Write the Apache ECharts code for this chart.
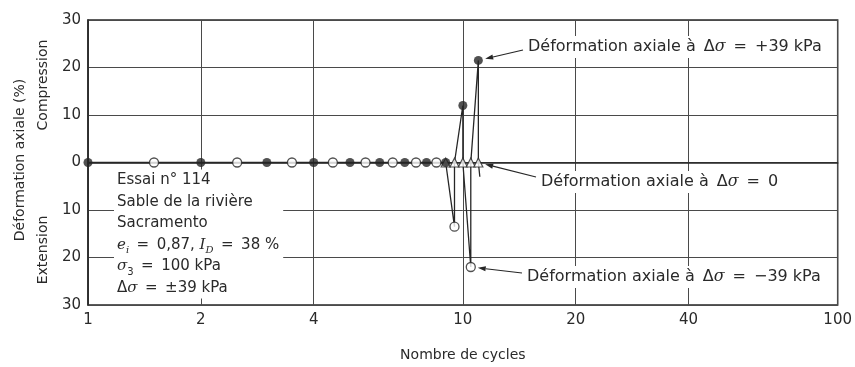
<!DOCTYPE html>
<html><head><meta charset="utf-8">
<script src="https://cdn.jsdelivr.net/npm/echarts@6/dist/echarts.min.js"></script>
<style>html,body{margin:0;padding:0;background:#fff}#c{width:855px;height:367px}</style>
</head><body><div id="c"></div>
<script>
const FONT = 'DejaVu Sans';
const xTicks = [1, 2, 4, 10, 20, 40, 100];
// Δσ = +39 kPa (filled circles)
const compCycles = [1, 2, 3, 4, 5, 6, 7, 8, 9, 10, 11];
const compStrain = [0, 0, 0, 0, 0, 0, 0, 0, 0, 12, 21.5];
// Δσ = -39 kPa (open circles)
const extCycles = [1.5, 2.5, 3.5, 4.5, 5.5, 6.5, 7.5, 8.5, 9.5, 10.5];
const extStrain = [0, 0, 0, 0, 0, 0, 0, 0, -13.5, -22];
// Δσ = 0 (triangles)
const zeroCycles = [9, 9.5, 10, 10.5, 11];
const zeroStrain = [0, 0, 0, 0, 0];
// last recorded segment
const tailCycle = [11.1];
const tailStrain = [-3];

const pts = [];
compCycles.forEach((c, i) => pts.push({c: c, y: compStrain[i], o: 0}));
extCycles.forEach((c, i) => pts.push({c: c, y: extStrain[i], o: 0}));
zeroCycles.forEach((c, i) => pts.push({c: c, y: zeroStrain[i], o: 1}));
pts.sort((a, b) => (a.c - b.c) || (a.o - b.o));
const path = pts.map(p => [p.c, p.y]);
tailCycle.forEach((c, i) => path.push([c, tailStrain[i]]));

const ink = '#262626';
const txt = '#2a2a2a';
const chart = echarts.init(document.getElementById('c'), null, {renderer: 'canvas'});
chart.setOption({
  animation: false,
  backgroundColor: '#fff',
  grid: {left: 88, right: 11, top: 20, bottom: 62, show: true, borderColor: ink, borderWidth: 1.5, backgroundColor: 'transparent'},
  xAxis: {
    type: 'log', logBase: 10, min: 1, max: 100,
    axisLine: {show: true, lineStyle: {color: ink, width: 1.5}},
    axisTick: {show: false, customValues: xTicks},
    axisLabel: {customValues: xTicks, color: txt, fontSize: 15, fontFamily: FONT, margin: 8, formatter: v => String(v)},
    splitLine: {show: true, lineStyle: {color: '#4a4a4a', width: 1}},
    minorTick: {show: false}, minorSplitLine: {show: false},
    name: 'Nombre de cycles', nameLocation: 'middle', nameGap: 43,
    nameTextStyle: {color: txt, fontSize: 14, fontFamily: FONT}
  },
  yAxis: {
    type: 'value', min: -30, max: 30, interval: 10,
    axisLine: {show: true, lineStyle: {color: ink, width: 1.5}},
    axisTick: {show: false},
    axisLabel: {color: txt, fontSize: 15, fontFamily: FONT, margin: 7, formatter: v => String(Math.abs(v))},
    splitLine: {show: true, lineStyle: {color: '#4a4a4a', width: 1}}
  },
  series: [
    {type: 'line', data: path, symbol: 'none', lineStyle: {color: ink, width: 1.3}, z: 2},
    {type: 'scatter', data: zeroCycles.map((c, i) => [c, zeroStrain[i]]), symbol: 'triangle', symbolSize: 9,
      itemStyle: {color: '#fff', borderColor: ink, borderWidth: 1.2}, z: 3},
    {type: 'scatter', data: extCycles.map((c, i) => [c, extStrain[i]]), symbol: 'circle', symbolSize: 9,
      itemStyle: {color: '#fff', borderColor: ink, borderWidth: 1.3}, z: 4},
    {type: 'scatter', data: compCycles.map((c, i) => [c, compStrain[i]]), symbol: 'circle', symbolSize: 9,
      itemStyle: {color: ink}, z: 5}
  ]
});

const LH = 21.5;
const rich = {
  n: {fontSize: 15, fontFamily: FONT, color: txt, lineHeight: LH},
  it: {fontSize: 15, fontFamily: 'DejaVu Serif', fontStyle: 'italic', color: txt, lineHeight: LH},
  sub: {fontSize: 10, fontFamily: 'DejaVu Serif', fontStyle: 'italic', color: txt, lineHeight: 13, verticalAlign: 'bottom'},
  sub2: {fontSize: 10, fontFamily: FONT, color: txt, lineHeight: 13, verticalAlign: 'bottom'},
  a: {fontSize: 16, fontFamily: FONT, color: txt, lineHeight: 20},
  ai: {fontSize: 16, fontFamily: 'DejaVu Serif', fontStyle: 'italic', color: txt, lineHeight: 20}
};
function n(t) { return '{n|' + t + '}'; }
function sub(t) { return '{sub|' + t + '}'; }
function it(t) { return '{it|' + t + '}'; }
function a(t) { return '{a|' + t + '}'; }
const EQ = '\u2002=\u2002';
const ANN = a('Déformation axiale à\u2002Δ') + '{ai|σ}';

function textEl(x, y, str, extra) {
  return {
    type: 'text', x: x, y: y, z: 50,
    style: Object.assign({text: str, rich: rich, fill: txt, font: '15px ' + FONT, align: 'left', verticalAlign: 'middle',
      backgroundColor: '#fff', padding: [1, 3]}, extra || {})
  };
}

const g = [];
g.push(textEl(525, 47, ANN + a(EQ + '+39 kPa')));
g.push(textEl(538, 182, ANN + a(EQ + '0')));
g.push(textEl(524, 277, ANN + a(EQ + '−39 kPa')));
g.push(textEl(114, 169.5,
  n('Essai n° 114') + '\n' +
  n('Sable de la rivière') + '\n' +
  n('Sacramento') + '\n' +
  it('e') + sub('i') + n(EQ + '0,87, ') + it('I') + sub('D') + n(EQ + '38 %') + '\n' +
  it('σ') + '{sub2|3}' + n(EQ + '100 kPa') + '\n' +
  n('Δ') + it('σ') + n(EQ + '±39 kPa'),
  {verticalAlign: 'top', padding: [0, 4, 0, 3]}));

// rotated axis titles
function rot(x, y, str, size) {
  return {type: 'text', x: x, y: y, rotation: Math.PI / 2, z: 50,
    style: {text: str, fill: txt, font: size + 'px ' + FONT, align: 'center', verticalAlign: 'middle'}};
}
g.push(rot(20, 160, 'Déformation axiale (%)', 14));
g.push(rot(43, 85, 'Compression', 14));
g.push(rot(43, 250, 'Extension', 14));

function arrow(tail, dataPt, gap) {
  const p = chart.convertToPixel({gridIndex: 0}, dataPt);
  const dx = tail[0] - p[0], dy = tail[1] - p[1];
  const L = Math.sqrt(dx * dx + dy * dy);
  const ux = dx / L, uy = dy / L;
  const hx = p[0] + ux * gap, hy = p[1] + uy * gap;
  const bx = hx + ux * 8, by = hy + uy * 8;
  const px = -uy * 2.6, py = ux * 2.6;
  g.push({type: 'line', z: 60, shape: {x1: tail[0], y1: tail[1], x2: bx, y2: by}, style: {stroke: ink, lineWidth: 1.2}});
  g.push({type: 'polygon', z: 60, shape: {points: [[hx, hy], [bx + px, by + py], [bx - px, by - py]]}, style: {fill: ink}});
}
const lastC = compCycles.length - 1;
arrow([523, 50], [compCycles[lastC], compStrain[lastC]], 7);
const lastZ = zeroCycles.length - 1;
arrow([536, 177], [zeroCycles[lastZ], zeroStrain[lastZ]], 7);
const lastE = extCycles.length - 1;
arrow([522, 273], [extCycles[lastE], extStrain[lastE]], 7);

chart.setOption({graphic: {elements: g}});
</script>
</body></html>
